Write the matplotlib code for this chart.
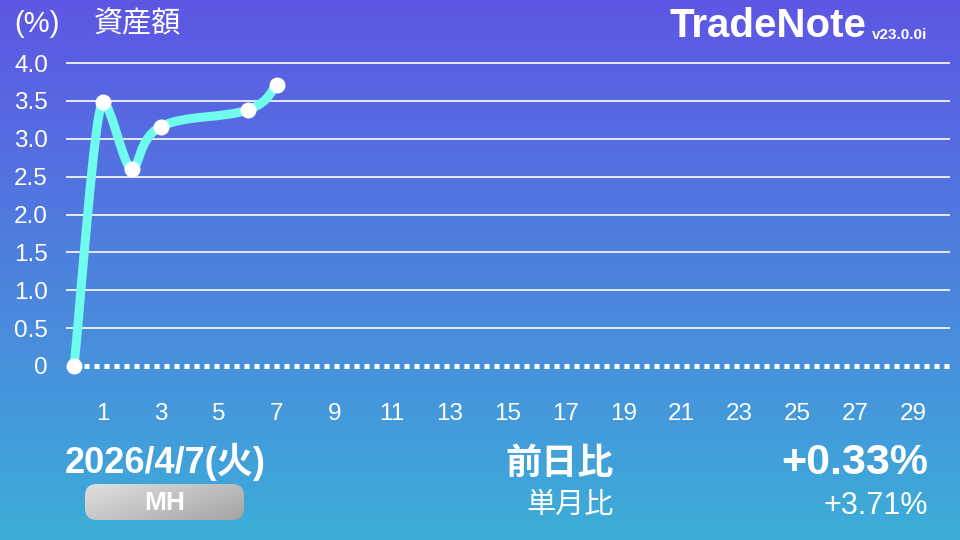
import numpy as np
import matplotlib
matplotlib.use("Agg")
import matplotlib.pyplot as plt
from matplotlib.path import Path
from matplotlib.patches import PathPatch, FancyBboxPatch

plt.rcParams['font.family'] = ['Liberation Sans', 'Noto Sans CJK JP', 'DejaVu Sans']

# ---------- data ----------
days = [0, 1, 2, 3, 6, 7]
values = [0.0, 3.48, 2.60, 3.16, 3.38, 3.71]
yticks = [0, 0.5, 1.0, 1.5, 2.0, 2.5, 3.0, 3.5, 4.0]
ytick_labels = ['0', '0.5', '1.0', '1.5', '2.0', '2.5', '3.0', '3.5', '4.0']
xticks = list(range(1, 30, 2))
date_text = '2026/4/7(火)'
badge_text = 'MH'
day_label = '前日比'
month_label = '単月比'
day_change = '+0.33%'
month_change = '+3.71%'

W, H = 960, 540
fig = plt.figure(figsize=(9.6, 5.4), dpi=100)

# background (pixel coordinates)
bg = fig.add_axes([0, 0, 1, 1])
bg.set_xlim(0, W)
bg.set_ylim(H, 0)
bg.axis('off')
top = np.array([94, 86, 228]) / 255
bot = np.array([60, 174, 216]) / 255
t = np.linspace(0, 1, 256)[:, None]
grad = top[None, :] * (1 - t)[:, :, None] + bot[None, :] * t[:, :, None]
bg.imshow(grad, extent=[0, W, H, 0], aspect='auto', zorder=0)

# header texts
bg.text(14, 24, '(%)', color='white', fontsize=21, va='center', ha='left')
bg.text(94, 24, '資産額', color='white', fontsize=21, va='center', ha='left',
        family=['Noto Sans CJK JP'])
bg.text(866, 26, 'TradeNote', color='white', fontsize=29, fontweight='bold',
        va='center', ha='right')
bg.text(872, 35, 'v23.0.0i', color='white', fontsize=11, fontweight='bold',
        va='center', ha='left')

# footer texts
bg.text(165, 462, date_text, color='white', fontsize=26, fontweight='bold',
        va='center', ha='center')
badge = FancyBboxPatch((85, 484), 159, 36, boxstyle='round,pad=0,rounding_size=12',
                       ec='none', fc='none', zorder=2)
bg.add_patch(badge)
gx = np.linspace(0, 1, 64)[None, :]
gy = np.linspace(0, 1, 32)[:, None]
shade = 0.88 - 0.24 * (0.6 * gx + 0.4 * gy)
img = bg.imshow(np.dstack([shade, shade, shade]), extent=[84, 245, 521, 483],
                aspect='auto', zorder=2)
img.set_clip_path(badge)
bg.text(165, 503, badge_text, color='white', fontsize=19, fontweight='bold',
        va='center', ha='center', zorder=3)

bg.text(614, 463, day_label, color='white', fontsize=26, fontweight='bold',
        va='center', ha='right', family=['Noto Sans CJK JP'])
bg.text(614, 505, month_label, color='white', fontsize=21, va='center', ha='right',
        family=['Noto Sans CJK JP'])
bg.text(928, 463, day_change, color='white', fontsize=31, fontweight='bold',
        va='center', ha='right')
bg.text(928, 506, month_change, color='white', fontsize=22, va='center', ha='right')

# ---------- chart ----------
ax = fig.add_axes([66 / W, 1 - 375 / H, (950 - 66) / W, 320 / H])
ax.patch.set_alpha(0)
ax.set_xlim(-0.277, 30.28)
ax.set_ylim(-0.119, 4.106)
for s in ax.spines.values():
    s.set_visible(False)

for v in yticks[1:]:
    ax.axhline(v, color='white', lw=1.2, zorder=1)
ax.axhline(0, xmin=(0 + 0.277) / 30.557, color='white', lw=3.6,
           linestyle=(0, (1, 1)), dash_capstyle='butt', zorder=1)

ax.set_yticks(yticks)
ax.set_yticklabels(ytick_labels)
ax.set_xticks(xticks)
ax.tick_params(length=0, colors='white', labelsize=17.5)
ax.tick_params(axis='y', pad=13)
ax.tick_params(axis='x', pad=20)

# smooth line: cubic bezier (intensity 0.2), flat tangent at local peaks
pts = np.column_stack([days, values]).astype(float)
k = 0.2
n = len(pts)
tang = []
for i in range(n):
    a = pts[max(i - 1, 0)]
    b = pts[min(i + 1, n - 1)]
    d = k * (b - a)
    if 0 < i < n - 1 and (pts[i, 1] - a[1]) * (b[1] - pts[i, 1]) < 0:
        d = np.array([d[0] * 0.7, 0.0])
    tang.append(d)
verts = [tuple(pts[0])]
codes = [Path.MOVETO]
for i in range(n - 1):
    verts += [tuple(pts[i] + tang[i]), tuple(pts[i + 1] - tang[i + 1]), tuple(pts[i + 1])]
    codes += [Path.CURVE4] * 3
ax.add_patch(PathPatch(Path(verts, codes), fc='none', ec='#6ffcef', lw=6.5,
                       capstyle='round', joinstyle='round', zorder=3, clip_on=False))
ax.plot(days, values, 'o', color='white', ms=11.5, mec='none', zorder=4, clip_on=False)

fig.savefig('out.png', dpi=100)
